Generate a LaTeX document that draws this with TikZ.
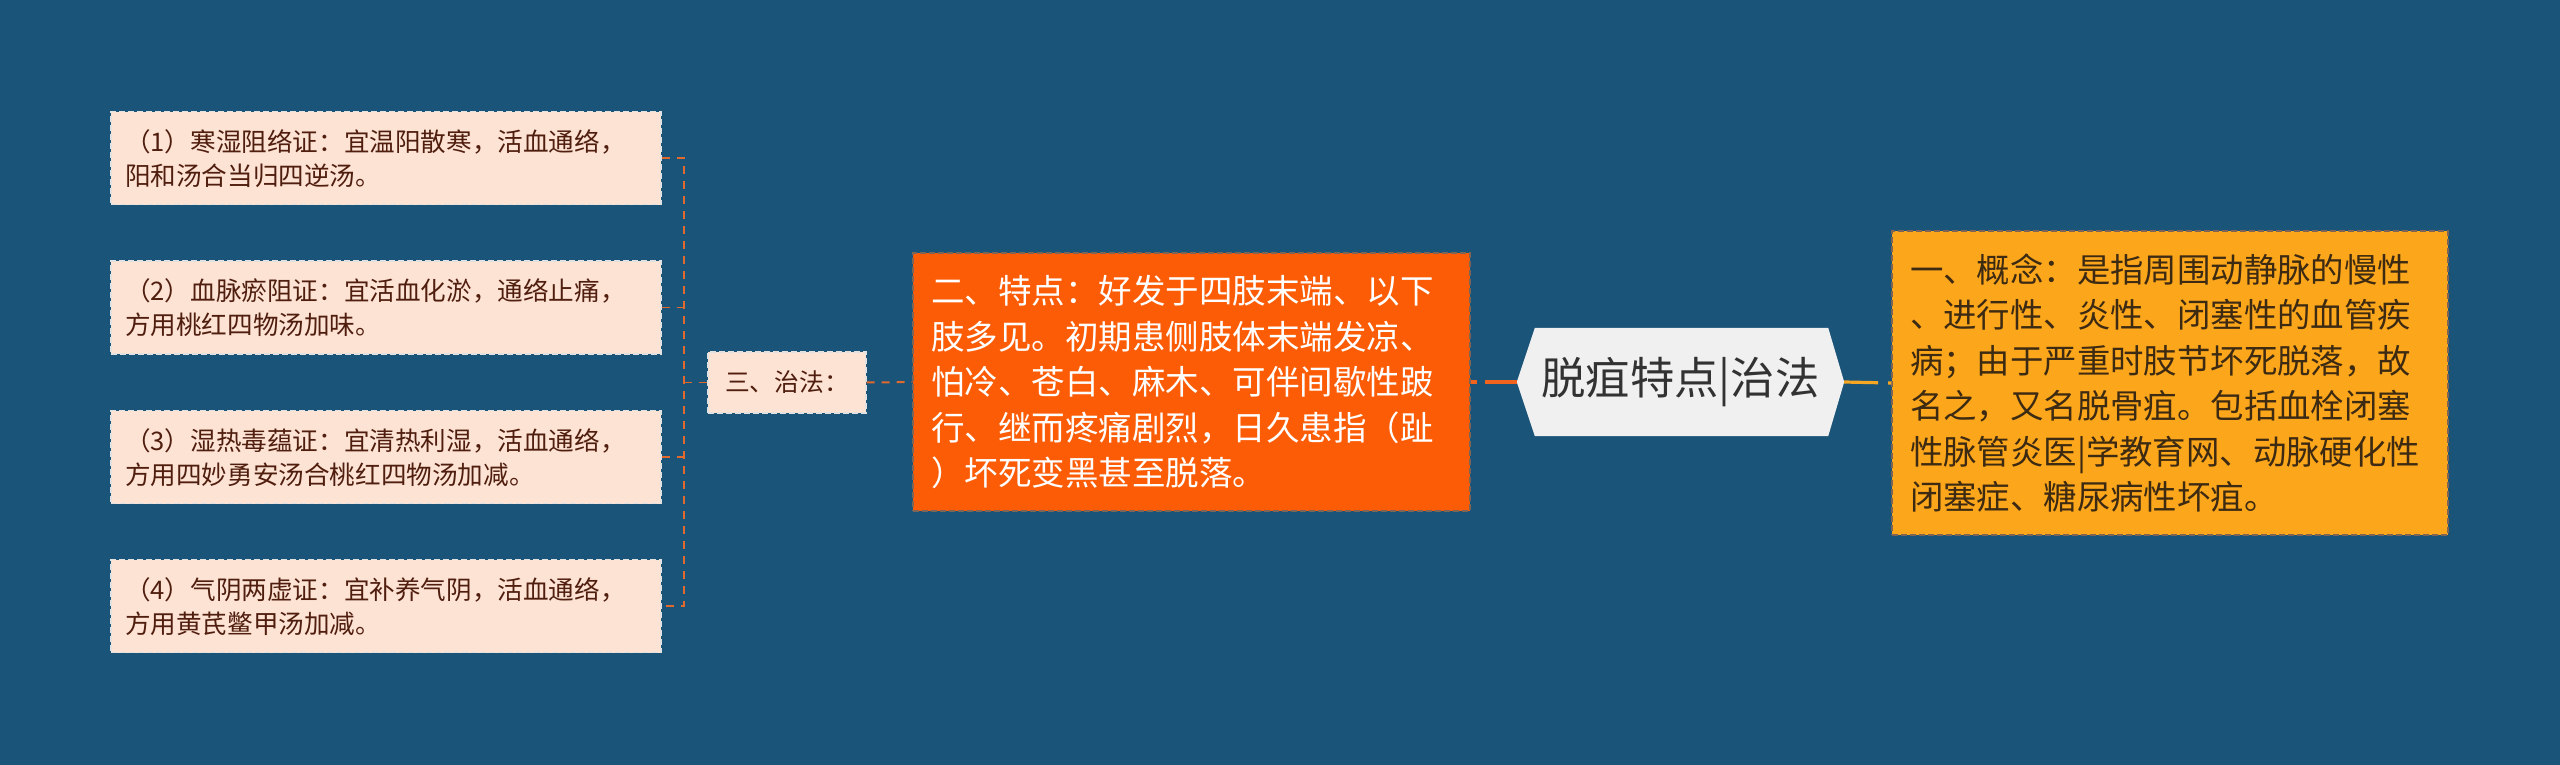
\documentclass[tikz,border=0pt]{standalone}
\usepackage{fontspec}
\setmainfont{Noto Sans CJK SC}
\usetikzlibrary{calc,backgrounds}
\definecolor{bgblue}{RGB}{26,84,120}
\definecolor{peach}{RGB}{253,227,212}
\definecolor{leaftext}{RGB}{80,30,15}
\definecolor{leafborder}{RGB}{225,225,225}
\definecolor{orangefill}{RGB}{252,92,5}
\definecolor{yellowfill}{RGB}{252,166,27}
\definecolor{yellowtext}{RGB}{60,42,18}
\definecolor{boxborder}{RGB}{125,100,85}
\definecolor{hexfill}{RGB}{240,240,240}
\definecolor{hextext}{RGB}{50,50,50}
\definecolor{bracketcol}{RGB}{225,105,45}
\definecolor{orangeline}{RGB}{242,100,30}
\definecolor{yellowline}{RGB}{245,166,35}
\begin{document}
\begin{tikzpicture}[x=1pt,y=-1pt,
  leafbox/.style={draw=leafborder, line width=1.2pt, dash pattern=on 6pt off 3pt,
    fill=peach, text=leaftext, inner sep=0pt, align=left,
    minimum width=550pt, minimum height=93pt, text width=522pt,
    font=\fontsize{25.6}{34}\selectfont},
  smallbox/.style={draw=leafborder, line width=1.2pt, dash pattern=on 6pt off 3pt,
    fill=peach, text=leaftext, inner sep=0pt, align=center,
    minimum width=158pt, minimum height=61pt,
    font=\fontsize{24.8}{34}\selectfont},
  orangebox/.style={draw=boxborder, line width=1.2pt, dash pattern=on 6pt off 3pt,
    fill=orangefill, text=white, inner sep=0pt, align=left,
    minimum width=557pt, minimum height=258pt, text width=521pt,
    font=\fontsize{33.5}{45.5}\selectfont},
  yellowbox/.style={draw=boxborder, line width=1.2pt, dash pattern=on 6pt off 3pt,
    fill=yellowfill, text=yellowtext, inner sep=0pt, align=left,
    minimum width=556pt, minimum height=304pt, text width=520pt,
    font=\fontsize{33.4}{45.5}\selectfont},
  centre/.style={text=hextext, inner sep=0pt, minimum width=327pt, minimum height=108pt,
    font=\fontsize{44.3}{50}\selectfont},
  bracket/.style={draw=bracketcol, line width=1.6pt, dash pattern=on 8pt off 7pt},
]
\begin{scope}[on background layer]
  \fill[bgblue] (0,0) rectangle (2560,765);
\end{scope}
\useasboundingbox (0,0) rectangle (2560,765);

% leaf boxes
\node[leafbox] (b1) at (386,158.3) {（1）寒湿阻络证：宜温阳散寒，活血通络，\\阳和汤合当归四逆汤。};
\node[leafbox] (b2) at (386,307.5) {（2）血脉瘀阻证：宜活血化淤，通络止痛，\\方用桃红四物汤加味。};
\node[leafbox] (b3) at (386,457.2) {（3）湿热毒蕴证：宜清热利湿，活血通络，\\方用四妙勇安汤合桃红四物汤加减。};
\node[leafbox] (b4) at (386,606.2) {（4）气阴两虚证：宜补养气阴，活血通络，\\方用黄芪鳖甲汤加减。};

% treatment node
\node[smallbox] (z) at (787,382.5) {三、治法：};

% orange box
\node[orangebox] (o) at (1191.5,382) {二、特点：好发于四肢末端、以下\\肢多见。初期患侧肢体末端发凉、\\怕冷、苍白、麻木、可伴间歇性跛\\行、继而疼痛剧烈，日久患指（趾\\）坏死变黑甚至脱落。};

% centre node
\node[centre] (c) at (1680.5,382) {脱疽特点|治法};
\begin{scope}[on background layer]
  \fill[hexfill] (c.west) -- ($(c.north west)+(18,0)$) -- ($(c.north east)+(-16,0)$)
    -- (c.east) -- ($(c.south east)+(-16,0)$) -- ($(c.south west)+(18,0)$) -- cycle;
\end{scope}

% yellow box
\node[yellowbox] (y) at (2170,383) {一、概念：是指周围动静脉的慢性\\、进行性、炎性、闭塞性的血管疾\\病；由于严重时肢节坏死脱落，故\\名之，又名脱骨疽。包括血栓闭塞\\性脉管炎医|学教育网、动脉硬化性\\闭塞症、糖尿病性坏疽。};

% bracket connectors
\coordinate (j) at (684,382.5);
\draw[bracket] (b1.east) -- (b1.east -| j) -- (b4.east -| j) -- (b4.east);
\draw[bracket] (b2.east) -- (b2.east -| j);
\draw[bracket] (b3.east) -- (b3.east -| j);
\draw[bracket] (j) -- (z.west);

% main connectors
\draw[bracket, line width=2pt] (z.east) -- (o.west);
\draw[orangeline, line width=3.2pt, dash pattern=on 32pt off 8pt on 12pt off 0pt] (c.west) -- (o.east);
\draw[yellowline, line width=3.2pt, dash pattern=on 34pt off 10pt on 12pt off 0pt] (c.east) -- (y.west);
\end{tikzpicture}
\end{document}
